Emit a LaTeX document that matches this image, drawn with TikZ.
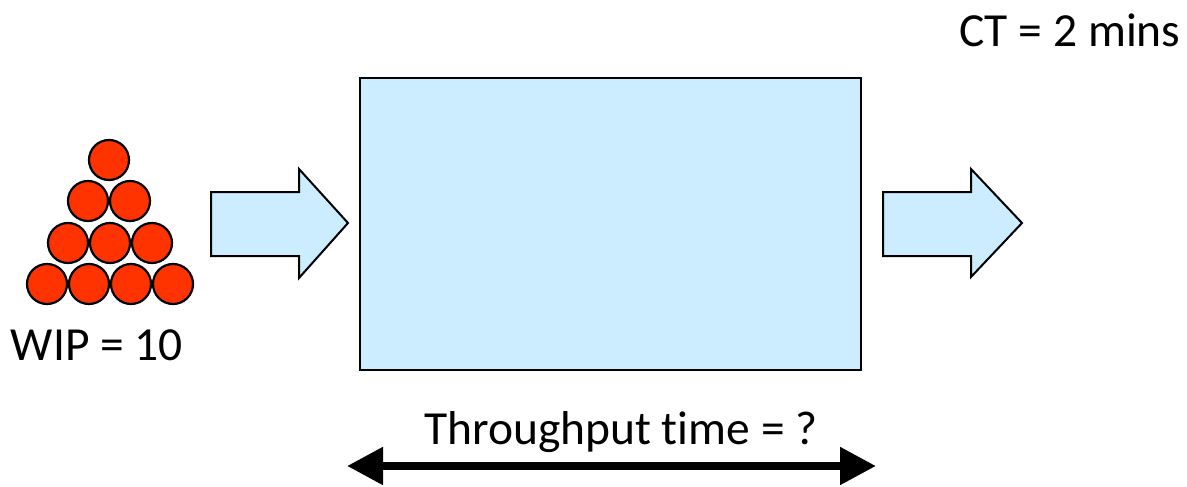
\documentclass[tikz,border=0pt]{standalone}
\usepackage{fontspec}
\setmainfont[Ligatures=NoCommon]{Carlito}
\usetikzlibrary{arrows.meta}
\definecolor{procblue}{HTML}{CCECFF}
\definecolor{wipred}{HTML}{FF3300}
\tikzset{
  ball/.style={circle, draw=black, line width=2.2pt, fill=wipred, minimum size=40pt, inner sep=0pt},
  blockarrow/.style={draw=black, line width=2pt, fill=procblue, line join=miter},
  label/.style={font=\fontsize{47.5}{54}\selectfont, inner sep=0pt},
  process/.style={draw=black, line width=2pt, fill=procblue}
}
\begin{document}
\begin{tikzpicture}[x=1pt, y=-1pt]
\path[use as bounding box] (0,0) rectangle (1187,487);

% work in progress: a stack of ten items
\foreach \x [count=\i] in {47,89,131,173} \node[ball] (b4\i) at (\x,284) {};
\foreach \x [count=\i] in {68,110,152} \node[ball] (b3\i) at (\x,243) {};
\foreach \x [count=\i] in {88,130} \node[ball] (b2\i) at (\x,201) {};
\node[ball] (b11) at (109,160) {};
\node[label] (wip) at (97,345) {WIP = 10};

% inflow arrow
\draw[blockarrow] (211,192) -- (299,192) -- (299,169) -- (348,223) -- (299,278) -- (299,256) -- (211,256) -- cycle;

% the process
\node[process, minimum width=501pt, minimum height=292pt, inner sep=0pt] (proc) at (610.5,224) {};

% outflow arrow
\draw[blockarrow] (883,192) -- (971,192) -- (971,169) -- (1022,223) -- (971,277) -- (971,256) -- (883,256) -- cycle;

% cycle time
\node[label] (ct) at (1070,30) {CT = 2 mins};

% throughput time span
\node[label] (tpt) at (621,432) {Throughput time = ?};
\coordinate (spanL) at (347,466);
\coordinate (spanR) at (876,466);
\draw[line width=8pt, {Triangle[length=36pt,width=36pt]}-{Triangle[length=36pt,width=36pt]}] (spanL) -- (spanR);
\end{tikzpicture}
\end{document}
